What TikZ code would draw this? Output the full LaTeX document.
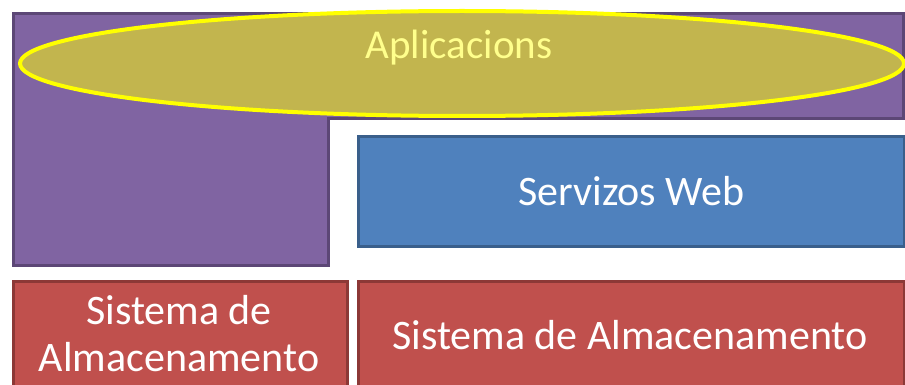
\documentclass[tikz,border=0pt]{standalone}
\usepackage{fontspec}
\setmainfont{Carlito}
\usetikzlibrary{shapes.geometric}
\definecolor{purfill}{HTML}{8064A2}
\definecolor{purline}{HTML}{5C4776}
\definecolor{olive}{HTML}{C2B54E}
\definecolor{ylw}{HTML}{FFFF00}
\definecolor{paleylw}{HTML}{FFFF8C}
\definecolor{bluefill}{HTML}{4F81BD}
\definecolor{blueline}{HTML}{3A5F8B}
\definecolor{redfill}{HTML}{C0504D}
\definecolor{redline}{HTML}{8C3836}
\tikzset{
  bigtext/.style={font=\fontsize{42}{47}\selectfont},
  bluebox/.style={draw=blueline, fill=bluefill, line width=3pt, inner sep=0pt},
  redbox/.style={draw=redline, fill=redfill, line width=3pt, inner sep=0pt},
  boxtext/.style={text=white, bigtext, inner sep=0pt},
}
\begin{document}
\begin{tikzpicture}[x=1pt,y=-1pt]
\useasboundingbox (0,0) rectangle (905,385);
\clip (0,0) rectangle (905,385);
% purple L-shape
\draw[fill=purfill, draw=purline, line width=3pt, line join=miter]
  (13,14) -- (903,14) -- (903,119) -- (328,119) -- (328,265) -- (13,265) -- cycle;
% blue box
\node[bluebox, minimum width=546pt, minimum height=110pt, anchor=north west] (web) at (357,135) {};
\node[boxtext] (webtxt) at (web.center) {Servizos Web};
% red boxes
\node[redbox, minimum width=334pt, minimum height=130pt, anchor=north west] (sa1) at (12,280) {};
\node[boxtext, align=center] (sa1txt) at (179,334) {Sistema de\\Almacenamento};
\node[redbox, minimum width=546pt, minimum height=130pt, anchor=north west] (sa2) at (357,280) {};
\node[boxtext] (sa2txt) at (630,335) {Sistema de Almacenamento};
% ellipse
\node[ellipse, draw=ylw, fill=olive, line width=4pt, minimum width=884pt, minimum height=105pt, inner sep=0pt] (apl) at (462,63.5) {};
\node[text=paleylw, font=\fontsize{41}{47}\selectfont, inner sep=0pt] (apltxt) at (459,48) {Aplicacions};
\end{tikzpicture}
\end{document}
